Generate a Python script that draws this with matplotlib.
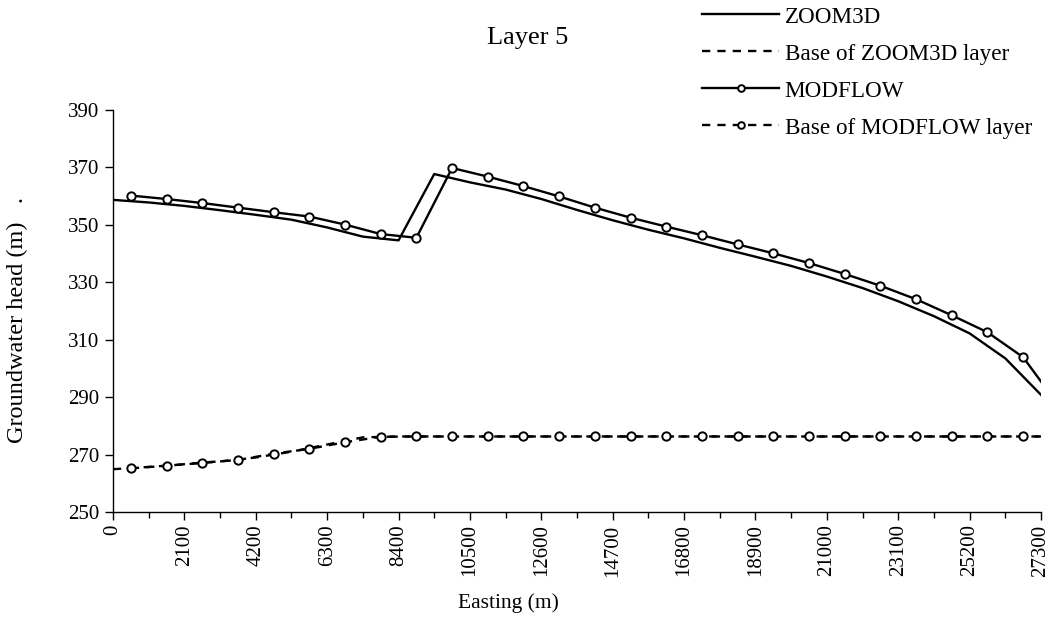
import numpy as np
import matplotlib
matplotlib.use("Agg")
import matplotlib.pyplot as plt
from matplotlib.ticker import MultipleLocator

plt.rcParams['font.family'] = ['Liberation Serif', 'DejaVu Serif']

# ZOOM3D nodes every 1050 m, MODFLOW cell centres offset by 525 m
zoom_x = np.arange(27) * 1050
zoom_head = [358.7, 357.8, 356.6, 355.1, 353.5, 351.8, 349.1, 345.9, 344.6,
             367.7, 364.8, 362.3, 359.0, 355.2, 351.6, 348.3, 345.3, 342.0,
             338.9, 335.7, 332.0, 328.0, 323.4, 318.2, 312.2, 303.5, 290.8]
zoom_base = [264.9, 265.7, 266.6, 267.6, 269.0, 271.0, 273.5, 276.0, 276.3,
             276.3, 276.3, 276.3, 276.3, 276.3, 276.3, 276.3, 276.3, 276.3,
             276.3, 276.3, 276.3, 276.3, 276.3, 276.3, 276.3, 276.3, 276.3]

mf_x = np.arange(27) * 1050 + 525
mf_head = [360.2, 359.0, 357.6, 356.0, 354.4, 352.9, 350.1, 346.8, 345.5,
           369.8, 366.8, 363.5, 359.9, 356.0, 352.5, 349.4, 346.4, 343.2,
           340.1, 336.7, 332.9, 328.8, 324.1, 318.5, 312.6, 303.9, 287.0]
mf_base = [265.2, 266.1, 267.2, 268.1, 270.3, 272.0, 274.3, 276.2, 276.3,
           276.3, 276.3, 276.3, 276.3, 276.3, 276.3, 276.3, 276.3, 276.3,
           276.3, 276.3, 276.3, 276.3, 276.3, 276.3, 276.3, 276.3, 276.3]

y_ticks = np.arange(250, 391, 20)

fig = plt.figure(figsize=(10.51, 6.44), dpi=100)
ax = fig.add_axes([113 / 1051, 1 - 512 / 644, (1041 - 113) / 1051, (512 - 110) / 644])

dash = (0, (3.5, 3))
ax.plot(zoom_x, zoom_head, color='black', lw=1.7, label='ZOOM3D')
ax.plot(zoom_x, zoom_base, color='black', lw=1.7, linestyle=dash,
        label='Base of ZOOM3D layer')
ax.plot(mf_x, mf_head, color='black', lw=1.7, marker='o', ms=6,
        mfc='white', mec='black', mew=1.4, label='MODFLOW')
ax.plot(mf_x, mf_base, color='black', lw=1.7, linestyle=dash, marker='o',
        ms=6, mfc='white', mec='black', mew=1.4, label='Base of MODFLOW layer')

ax.set_xlim(0, 27300)
ax.set_ylim(250, 390)
ax.xaxis.set_major_locator(MultipleLocator(2100))
ax.xaxis.set_minor_locator(MultipleLocator(1050))
ax.set_yticks(y_ticks)
ax.tick_params(axis='x', which='major', length=6, width=1, labelsize=15,
               labelrotation=90, pad=3)
ax.tick_params(axis='x', which='minor', length=4, width=1)
ax.tick_params(axis='y', length=6, width=1, labelsize=15, pad=4)
for s in ['top', 'right']:
    ax.spines[s].set_visible(False)
for s in ['left', 'bottom']:
    ax.spines[s].set_linewidth(1)

fig.text(0.502, 1 - 38 / 644, 'Layer 5', ha='center', va='center', fontsize=19)
fig.text(508 / 1051, 1 - 603 / 644, 'Easting (m)', ha='center', va='center',
         fontsize=15.5)
fig.text(17 / 1051, 1 - 320 / 644, 'Groundwater head (m)   .', ha='center',
         va='center', rotation=90, fontsize=17.5)

ax.legend(loc='upper left', bbox_to_anchor=(700 / 1051, 1 - 4 / 644),
          bbox_transform=fig.transFigure, frameon=False, fontsize=16.7,
          handlelength=3.3, handletextpad=0.25, labelspacing=0.68,
          borderpad=0.1, borderaxespad=0, numpoints=1, markerscale=0.8)

fig.savefig('out.png', dpi=100)
